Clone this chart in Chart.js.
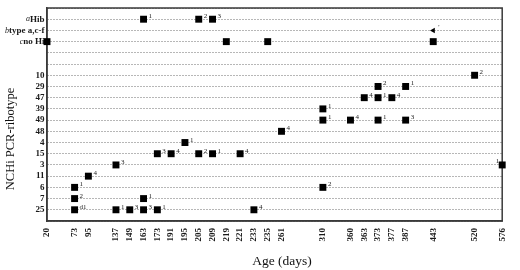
<!DOCTYPE html>
<html><head><meta charset="utf-8">
<script src="https://cdn.jsdelivr.net/npm/chart.js@4/dist/chart.umd.min.js"></script>
<style>html,body{margin:0;padding:0;background:#fff}canvas{display:block}</style>
</head><body>
<canvas id="c" width="520" height="270"></canvas>
<script>
// x tick labels (ages in days); '' = empty slot on the axis
const xSlots = ['20','','73','95','','137','149','163','173','191','195','205','209','219','221','233','235','261','','','310','','360','363','373','377','387','','443','','','520','','576'];
// y categories, top to bottom
const ribotypes = ['Hib','type a,c-f','no Hi','','','10','29','47','39','49','48','4','15','3','11','6','7','25'];
const ribotypeNotes = ['a','b','c'];
// isolates
const isolateAges  = ['163','205','209','20','219','235','443','520','373','387','363','373','377','310','310','360','373','387','261','195','173','191','205','209','221','137','576','95','73','310','73','163','73','137','149','163','173','233'];
const isolateTypes = ['Hib','Hib','Hib','no Hi','no Hi','no Hi','no Hi','10','29','29','47','47','47','39','49','49','49','49','48','4','15','15','15','15','15','3','3','11','6','6','7','7','25','25','25','25','25','25'];
const isolateNotes = ['1','2','3','','','','','2','2','1','4','1','4','1','1','4','1','3','4','1','3','4','2','1','4','3','1','4','1','2','2','1','d1','1','3','3','1','4'];
const otherAges  = ['443'];
const otherTypes = ['type a,c-f'];
const otherNotes = ["'"];

const SERIF = '"Liberation Serif", "Times New Roman", serif';

const mainPts = isolateAges.map((a,i)=>({x:a, y:ribotypes.indexOf(isolateTypes[i])}));
const otherPts = otherAges.map((a,i)=>({x:a, y:ribotypes.indexOf(otherTypes[i])}));

const decor = {
  id:'decor',
  beforeDatasetsDraw(chart){
    const {ctx, chartArea:a} = chart;
    ctx.save();
    ctx.strokeStyle = '#3a3a3a'; ctx.lineWidth = 1.5;
    ctx.strokeRect(a.left, a.top, a.right-a.left, a.bottom-a.top);
    ctx.restore();
  },
  afterDatasetsDraw(chart){
    const {ctx, chartArea:a} = chart;
    ctx.save();
    ctx.fillStyle = '#222';
    ctx.font = '7px ' + SERIF;
    ctx.textBaseline = 'alphabetic';
    chart.data.datasets.forEach((ds,d)=>{
      const meta = chart.getDatasetMeta(d);
      meta.data.forEach((el,i)=>{
        const t = ds.notes[i];
        if(!t) return;
        if(el.x + 10 > a.right){
          ctx.textAlign = 'right';
          ctx.fillText(t, el.x - 3, el.y - 2);
        } else {
          ctx.textAlign = 'left';
          ctx.fillText(t, el.x + 5, el.y - 1);
        }
      });
    });
    ctx.restore();
  },
  afterDraw(chart){
    const {ctx} = chart;
    const ys = chart.scales.y;
    ctx.save();
    ctx.fillStyle = '#1a1a1a';
    ctx.textBaseline = 'middle';
    ribotypeNotes.forEach((n,i)=>{
      const y = ys.getPixelForValue(i);
      const xr = ys.right - 2.5;
      ctx.font = 'bold 9px ' + SERIF;
      const w = ctx.measureText(ribotypes[i]).width;
      ctx.textAlign = 'right';
      ctx.fillText(ribotypes[i], xr, y);
      ctx.font = 'italic 8px ' + SERIF;
      ctx.fillText(n, xr - w, y);
    });
    // axis titles
    ctx.fillStyle = '#111';
    ctx.textAlign = 'center';
    ctx.font = '13.5px ' + SERIF;
    ctx.fillText('Age (days)', 282, 261);
    ctx.translate(11, 139);
    ctx.rotate(-Math.PI/2);
    ctx.font = '12.5px ' + SERIF;
    ctx.fillText('NCHi PCR-ribotype', 0, 0);
    ctx.restore();
  }
};

new Chart(document.getElementById('c'), {
  type:'scatter',
  data:{
    datasets:[
      {data:mainPts, notes:isolateNotes, pointStyle:'rect', pointRadius:4.9, pointHoverRadius:4.9, backgroundColor:'#000', borderWidth:0},
      {data:otherPts, notes:otherNotes, pointStyle:'triangle', rotation:-90, pointRadius:3.2, pointHoverRadius:3.2, backgroundColor:'#000', borderWidth:0}
    ]
  },
  options:{
    responsive:false, animation:false, events:[],
    layout:{padding:{top:8, right:6, left:0, bottom:0}},
    plugins:{legend:{display:false}, tooltip:{enabled:false}},
    scales:{
      x:{
        type:'category', labels:xSlots, offset:false,
        grid:{display:false, drawTicks:false},
        border:{display:true, color:'#3a3a3a', width:1.5},
        ticks:{autoSkip:false, minRotation:90, maxRotation:90, padding:7, color:'#1a1a1a',
               font:{family:SERIF, size:9, weight:'bold'}},
        afterFit(s){ s.height = 49; }
      },
      y:{
        type:'linear', min:-1, max:18, reverse:true,
        afterBuildTicks(s){ const t=[]; for(let v=-1; v<=18; v++) t.push({value:v}); s.ticks=t; },
        grid:{drawTicks:false, color:'#6e6e6e', lineWidth:1},
        border:{display:true, color:'#3a3a3a', width:1.5, dash:[1,2]},
        ticks:{autoSkip:false, padding:2.5, color:'#1a1a1a', font:{family:SERIF, size:9, weight:'bold'},
          callback(v){ return (v>=ribotypeNotes.length && v<ribotypes.length) ? ribotypes[v] : ''; }},
        afterFit(s){ s.width = 47; }
      }
    }
  },
  plugins:[decor]
});
</script>
</body></html>
